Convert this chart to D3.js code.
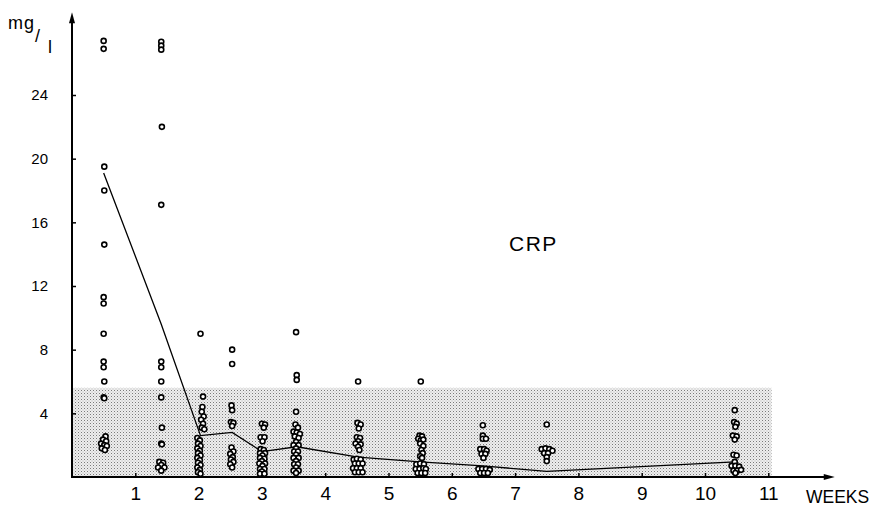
<!DOCTYPE html>
<html><head><meta charset="utf-8">
<script src="https://cdn.jsdelivr.net/npm/d3@7"></script>
<style>
html,body{margin:0;padding:0;background:#fff;}
svg{display:block;font-family:"Liberation Sans","DejaVu Sans",sans-serif;}
</style></head>
<body><svg id="chart" width="875" height="510"></svg>
<script>
// ---------- data ----------
const xTicks = [1,2,3,4,5,6,7,8,9,10,11];
const yTicks = [4,8,12,16,20,24];
const xLabel = "WEEKS";
const title = "CRP";
const normalUpper = 5.6;   // shaded normal range (mg/l)
const normalEnd = 11.05;   // weeks

const colA = [[0.5,27.4],[0.5,26.9],[0.51,19.5],[0.51,18.0],[0.51,14.6],[0.5,11.3],[0.5,10.9],[0.5,9.0],[0.5,7.25],[0.5,6.9],[0.51,6.0],[0.5,5.0],[0.51,4.95],
  [0.53,2.55],[0.49,2.35],[0.54,2.25],[0.46,2.1],[0.51,2.0],[0.55,1.95],[0.47,1.8],[0.52,1.7]];
const colB = [[1.41,27.35],[1.41,27.1],[1.41,26.85],[1.42,22.0],[1.41,17.1],[1.41,7.25],[1.41,6.9],[1.41,6.0],[1.41,5.0],[1.42,3.1],[1.41,2.1],[1.42,2.05],
  [1.38,0.95],[1.44,0.9],[1.41,0.75],[1.36,0.6],[1.46,0.6],[1.41,0.4]];
const colC = [[2.03,9.0],[2.07,5.05],[2.06,4.4],[2.05,4.1],[2.08,3.8],[2.04,3.6],[2.07,3.35],[2.05,3.1],[2.09,3.0],
  [1.98,2.45],[2.02,2.3],[1.99,2.1],[2.03,1.95],[1.98,1.8],[2.02,1.65],[1.99,1.5],[2.03,1.35],[1.98,1.2],[2.02,1.05],[1.99,0.9],[2.03,0.75],[1.98,0.6],[2.02,0.45],[1.99,0.3],[2.03,0.2]];
const colD = [[2.53,8.0],[2.53,7.1],[2.52,4.5],[2.53,4.2],[2.51,3.45],[2.55,3.4],[2.53,3.2],
  [2.52,1.85],[2.55,1.6],[2.5,1.45],[2.54,1.25],[2.51,1.1],[2.55,0.95],[2.5,0.8],[2.53,0.6]];
const colE = [[3.0,3.35],[3.05,3.3],[3.03,3.1],[2.98,2.5],[3.04,2.5],[3.01,2.25],
  [2.98,1.75],[3.03,1.7],[2.97,1.5],[3.05,1.5],[3.01,1.35],[2.97,1.2],[3.04,1.15],[3.0,1.0],[2.96,0.85],[3.05,0.85],[3.01,0.7],[2.97,0.5],[3.04,0.5],[3.0,0.35],[2.97,0.2],[3.04,0.2]];
const colF = [[3.54,9.1],[3.55,6.4],[3.55,6.1],[3.54,4.1],
  [3.53,3.3],[3.57,3.1],[3.5,2.85],[3.55,2.8],[3.6,2.7],[3.52,2.55],[3.58,2.45],
  [3.54,2.2],[3.5,2.0],[3.58,2.0],[3.54,1.8],[3.51,1.6],[3.57,1.6],[3.54,1.4],[3.5,1.2],[3.58,1.2],[3.54,1.0],[3.51,0.8],[3.57,0.8],[3.54,0.6],[3.5,0.4],[3.58,0.4],[3.54,0.25]];
const colG = [[4.52,6.0],[4.51,3.4],[4.56,3.3],[4.53,3.05],
  [4.5,2.5],[4.55,2.45],[4.52,2.25],[4.48,2.1],[4.56,2.05],[4.52,1.9],[4.54,1.7],
  [4.45,1.1],[4.5,1.15],[4.56,1.1],[4.47,0.85],[4.53,0.85],[4.59,0.85],[4.44,0.55],[4.5,0.55],[4.56,0.55],[4.47,0.3],[4.53,0.3],[4.59,0.3]];
const colH = [[5.51,6.0],[5.49,2.6],[5.53,2.55],[5.47,2.4],[5.51,2.3],[5.55,2.35],[5.5,2.1],[5.55,1.95],[5.52,1.7],[5.54,1.5],[5.5,1.3],[5.53,1.2],
  [5.44,0.8],[5.5,0.85],[5.56,0.8],[5.43,0.5],[5.49,0.5],[5.55,0.55],[5.59,0.5],[5.46,0.25],[5.52,0.25],[5.58,0.25]];
const colI = [[6.49,3.25],[6.49,2.6],[6.49,2.4],[6.54,2.4],
  [6.45,1.75],[6.51,1.75],[6.55,1.65],[6.47,1.45],[6.53,1.45],[6.5,1.2],
  [6.42,0.5],[6.48,0.5],[6.54,0.5],[6.6,0.45],[6.45,0.25],[6.51,0.25],[6.57,0.25]];
const colJ = [[7.5,3.3],[7.42,1.75],[7.48,1.8],[7.54,1.75],[7.59,1.65],[7.46,1.5],[7.52,1.5],[7.5,1.25],[7.5,1.0]];
const colK = [[10.47,4.2],[10.46,3.45],[10.5,3.35],[10.48,3.15],[10.44,2.6],[10.5,2.55],[10.47,2.35],[10.45,1.4],[10.5,1.35],
  [10.47,0.95],[10.42,0.7],[10.48,0.7],[10.54,0.65],[10.45,0.4],[10.51,0.4],[10.57,0.45],[10.48,0.25]];

const meanWeeks  = [0.5, 1.41, 2.03, 2.53, 3.0, 3.55, 4.52, 5.5, 6.49, 7.5, 10.47];
const meanValues = [19.1, 9.6, 2.6, 2.8, 1.6, 1.9, 1.25, 0.95, 0.7, 0.35, 0.95];

// ---------- drawing ----------
const svg = d3.select("#chart");
const x = d3.scaleLinear().domain([0, 11]).range([72, 768.3]);
const y = d3.scaleLinear().domain([0, 24]).range([477, 95]);

// stipple pattern
const defs = svg.append("defs");
const pat = defs.append("pattern").attr("id","stip").attr("patternUnits","userSpaceOnUse")
  .attr("width",3).attr("height",3);
pat.append("rect").attr("width",3).attr("height",3).attr("fill","#eeeeee");
pat.append("rect").attr("x",0).attr("y",0).attr("width",1).attr("height",1).attr("fill","#7a7a7a");
pat.append("rect").attr("x",1.5).attr("y",1.5).attr("width",1).attr("height",1).attr("fill","#b5b5b5");

svg.append("rect")
  .attr("x", x(0)).attr("y", y(normalUpper))
  .attr("width", x(normalEnd) - x(0)).attr("height", y(0) - y(normalUpper))
  .attr("fill", "url(#stip)");

// axes
const yAxis = d3.axisLeft(y).tickValues(yTicks).tickSizeInner(-4).tickSizeOuter(0).tickPadding(24);
const gy = svg.append("g").attr("transform", `translate(${x(0)},0)`).call(yAxis);
gy.select(".domain").remove();
gy.selectAll(".tick line").attr("stroke","#000").attr("stroke-width",1.5);
gy.selectAll(".tick text").attr("font-size",15).attr("fill","#000");

const xAxis = d3.axisBottom(x).tickValues(xTicks).tickSizeInner(-4).tickSizeOuter(0).tickPadding(10);
const gx = svg.append("g").attr("transform", `translate(0,${y(0)})`).call(xAxis);
gx.select(".domain").remove();
gx.selectAll(".tick line").attr("stroke","#000").attr("stroke-width",1.5);
gx.selectAll(".tick text").attr("font-size",19).attr("fill","#000");

// axis lines with arrows
const yTop = 29.2, xEnd = 12.05;
svg.append("line").attr("x1",x(0)).attr("x2",x(0)).attr("y1",y(0)+1).attr("y2",y(yTop)+6)
  .attr("stroke","#000").attr("stroke-width",2);
svg.append("path").attr("d",`M${x(0)},${y(yTop)} L${x(0)-3},${y(yTop)+11} L${x(0)+3},${y(yTop)+11}Z`).attr("fill","#000");
svg.append("line").attr("x1",x(0)-1).attr("x2",x(xEnd)-6).attr("y1",y(0)).attr("y2",y(0))
  .attr("stroke","#000").attr("stroke-width",2);
svg.append("path").attr("d",`M${x(xEnd)},${y(0)} L${x(xEnd)-11},${y(0)-3} L${x(xEnd)-11},${y(0)+3}Z`).attr("fill","#000");

// mean line
const line = d3.line().x(d => x(d[0])).y(d => y(d[1]));
svg.append("path").datum(d3.zip(meanWeeks, meanValues)).attr("d", line)
  .attr("fill","none").attr("stroke","#000").attr("stroke-width",1.3);

// points
const allPts = [].concat(colA,colB,colC,colD,colE,colF,colG,colH,colI,colJ,colK);
svg.append("g").selectAll("circle").data(allPts).join("circle")
  .attr("cx", d => x(d[0])).attr("cy", d => y(d[1])).attr("r", 2.5)
  .attr("fill","#fff").attr("stroke","#000").attr("stroke-width",1.6);

// labels
svg.append("text").attr("x", 806).attr("y", 503).attr("font-size",17.5).attr("fill","#000").text(xLabel);
svg.append("text").attr("x", 509).attr("y", 251).attr("font-size",21).attr("letter-spacing",1.5).attr("fill","#000").text(title);
svg.append("text").attr("x",8).attr("y",29).attr("font-size",18).attr("letter-spacing",1).attr("fill","#000").text("mg");
svg.append("text").attr("x",35).attr("y",42).attr("font-size",18).attr("fill","#000").text("/");
svg.append("text").attr("x",48).attr("y",53).attr("font-size",18).attr("fill","#000").text("l");
</script></body></html>
